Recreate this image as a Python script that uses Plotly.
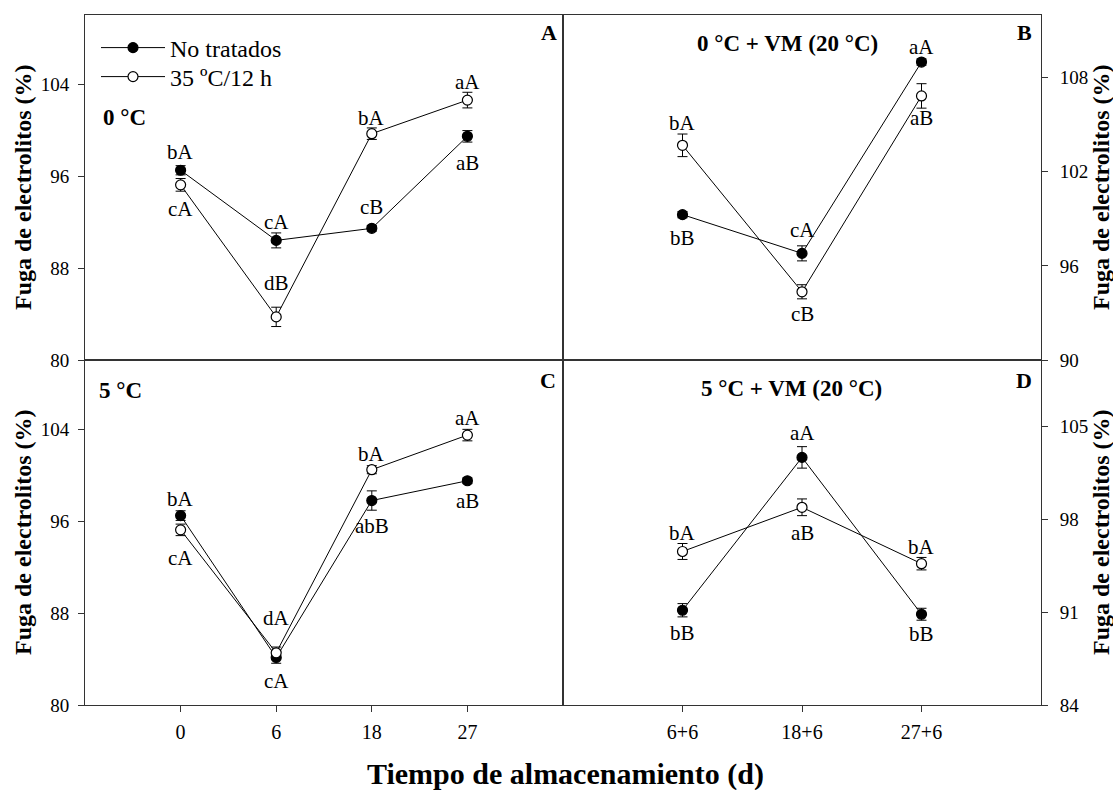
import plotly.graph_objects as go

# ---------------- data ----------------
days_cold = ["0", "6", "18", "27"]
days_shelf = ["6+6", "18+6", "27+6"]

# Panel A: 0 °C
a_untreated = [96.5, 90.4, 91.45, 99.45]
a_untreated_err = [0.4, 0.65, 0.25, 0.5]
a_treated = [95.23, 83.75, 99.68, 102.6]
a_treated_err = [0.55, 0.84, 0.5, 0.68]
a_untreated_lbl = ["bA", "cA", "cB", "aB"]
a_treated_lbl = ["cA", "dB", "bA", "aA"]

# Panel B: 0 °C + VM (20 °C)
b_untreated = [99.27, 96.8, 109.0]
b_untreated_err = [0.2, 0.48, 0.2]
b_treated = [103.69, 94.35, 106.84]
b_treated_err = [0.72, 0.45, 0.78]
b_untreated_lbl = ["bB", "cA", "aA"]
b_treated_lbl = ["bA", "cB", "aB"]

# Panel C: 5 °C
c_untreated = [96.47, 84.13, 97.78, 99.5]
c_untreated_err = [0.42, 0.5, 0.84, 0.25]
c_treated = [95.23, 84.54, 100.46, 103.47]
c_treated_err = [0.5, 0.5, 0.35, 0.5]
c_untreated_lbl = ["bA", "cA", "abB", "aB"]
c_treated_lbl = ["cA", "dA", "bA", "aA"]

# Panel D: 5 °C + VM (20 °C)
d_untreated = [91.14, 102.66, 90.84]
d_untreated_err = [0.5, 0.81, 0.45]
d_treated = [95.57, 98.9, 94.65]
d_treated_err = [0.6, 0.63, 0.47]
d_untreated_lbl = ["bB", "aA", "bB"]
d_treated_lbl = ["bA", "aB", "bA"]

series_names = ["No tratados", "35 ºC/12 h"]

# ---------------- styling / layout helpers ----------------
# vertical pixel offsets of the letter labels (positive = above the point)
shift_a = ([18, 18, 21, -27], [-24, 34, 16, 18])
shift_b = ([-23, 23, 15], [22, -22, -22])
shift_c = ([17, -23, -25, -20], [-28, 35, 16, 17])
shift_d = ([-23, 24, -20], [18, -26, 17])

W, H = 1113, 790
ML, MR, MT, MB = 85, 72, 15, 85
PW, PH = W - ML - MR, H - MT - MB
FONT = "Liberation Serif, Times New Roman, serif"
LINE_COL = "#333333"


def px(x, y):
    return (x - ML) / PW, (H - MB - y) / PH


fig = go.Figure()

panels = [
    ("x", "y", days_cold, a_untreated, a_untreated_err, a_treated, a_treated_err,
     a_untreated_lbl, a_treated_lbl, shift_a, True),
    ("x2", "y2", days_shelf, b_untreated, b_untreated_err, b_treated, b_treated_err,
     b_untreated_lbl, b_treated_lbl, shift_b, False),
    ("x3", "y3", days_cold, c_untreated, c_untreated_err, c_treated, c_treated_err,
     c_untreated_lbl, c_treated_lbl, shift_c, False),
    ("x4", "y4", days_shelf, d_untreated, d_untreated_err, d_treated, d_treated_err,
     d_untreated_lbl, d_treated_lbl, shift_d, False),
]

annotations = []
for (xa, ya, cats, u, ue, t, te, ul, tl, shifts, legend) in panels:
    xs = list(range(len(cats)))
    for name, vals, errs, lbls, sh, fill, lg in (
        (series_names[0], u, ue, ul, shifts[0], "black", "legend"),
        (series_names[1], t, te, tl, shifts[1], "white", "legend2"),
    ):
        fig.add_trace(go.Scatter(
            x=xs, y=vals, xaxis=xa, yaxis=ya, name=name, showlegend=legend,
            legend=lg,
            mode="lines+markers",
            line=dict(color="black", width=1),
            marker=dict(symbol="circle", size=10, color=fill,
                        line=dict(color="black", width=1.2)),
            error_y=dict(type="data", array=errs, color="black",
                         thickness=1, width=5),
            cliponaxis=False,
        ))
        for xi, yi, lb, s in zip(xs, vals, lbls, sh):
            annotations.append(dict(
                x=xi, y=yi, xref=xa, yref=ya, text=lb, showarrow=False,
                yshift=s, font=dict(family=FONT, size=21, color="black"),
            ))

axis_common = dict(showgrid=False, zeroline=False, showline=True, mirror=True,
                   linecolor=LINE_COL, linewidth=1,
                   tickcolor=LINE_COL, ticklen=6, tickwidth=1.2)
yfont = dict(tickfont=dict(family=FONT, size=19, color="black"))
xfont = dict(tickfont=dict(family=FONT, size=20, color="black"))

legend_common = dict(xanchor="left", yanchor="middle", bgcolor="rgba(0,0,0,0)",
                     font=dict(family=FONT, size=24), itemwidth=64,
                     tracegroupgap=0)

fig.update_layout(
    width=W, height=H,
    margin=dict(l=ML, r=MR, t=MT, b=MB),
    paper_bgcolor="white", plot_bgcolor="white",
    font=dict(family=FONT, color="black"),
    xaxis=dict(domain=[0, 0.5], anchor="y", range=[-1, 4], ticks="",
               showticklabels=False, **axis_common, **xfont),
    yaxis=dict(domain=[0.5, 1], anchor="x", range=[80, 110],
               tickvals=[80, 88, 96, 104], ticks="outside",
               ticklabelstandoff=5, **axis_common, **yfont),
    xaxis2=dict(domain=[0.5, 1], anchor="y2", range=[-1, 3], ticks="",
                showticklabels=False, **axis_common, **xfont),
    yaxis2=dict(domain=[0.5, 1], anchor="x2", range=[90, 112], side="right",
                tickvals=[90, 96, 102, 108], ticks="outside",
                ticklabelstandoff=8, **axis_common, **yfont),
    xaxis3=dict(domain=[0, 0.5], anchor="y3", range=[-1, 4], ticks="outside",
                tickvals=list(range(len(days_cold))), ticktext=days_cold,
                ticklabelstandoff=3, **axis_common, **xfont),
    yaxis3=dict(domain=[0, 0.5], anchor="x3", range=[80, 110],
                tickvals=[80, 88, 96, 104], ticks="outside",
                ticklabelstandoff=5, **axis_common, **yfont),
    xaxis4=dict(domain=[0.5, 1], anchor="y4", range=[-1, 3], ticks="outside",
                tickvals=list(range(len(days_shelf))), ticktext=days_shelf,
                ticklabelstandoff=3, **axis_common, **xfont),
    yaxis4=dict(domain=[0, 0.5], anchor="x4", range=[84, 110], side="right",
                tickvals=[84, 91, 98, 105], ticks="outside",
                ticklabelstandoff=8, **axis_common, **yfont),
    legend=dict(x=px(96, 0)[0], y=px(0, 48)[1], **legend_common),
    legend2=dict(x=px(96, 0)[0], y=px(0, 77)[1], **legend_common),
    showlegend=True,
)

def txt(text, x, y, size, bold=True, xanchor="center", angle=0):
    px_, py_ = px(x, y)
    return dict(x=px_, y=py_, xref="paper", yref="paper", showarrow=False,
                text=f"<b>{text}</b>" if bold else text, xanchor=xanchor,
                yanchor="middle", textangle=angle,
                font=dict(family=FONT, size=size, color="black"))

annotations += [
    txt("0 °C", 101, 117, 23, xanchor="left"),
    txt("5 °C", 97, 390, 23, xanchor="left"),
    txt("0 °C + VM (20 °C)", 787, 43, 23),
    txt("5 °C + VM (20 °C)", 791, 388, 23),
    txt("A", 559, 33, 22, xanchor="right"),
    txt("B", 1034, 32, 22, xanchor="right"),
    txt("C", 558, 380, 22, xanchor="right"),
    txt("D", 1034, 380, 22, xanchor="right"),
    txt("Fuga de electrolitos (%)", 23, 187, 24, angle=-90),
    txt("Fuga de electrolitos (%)", 23, 532, 24, angle=-90),
    txt("Fuga de electrolitos (%)", 1101, 187, 24, angle=-90),
    txt("Fuga de electrolitos (%)", 1101, 532, 24, angle=-90),
    txt("Tiempo de almacenamiento (d)", 565, 774, 30),
]
fig.update_layout(annotations=annotations)

fig.write_html("out.html")
